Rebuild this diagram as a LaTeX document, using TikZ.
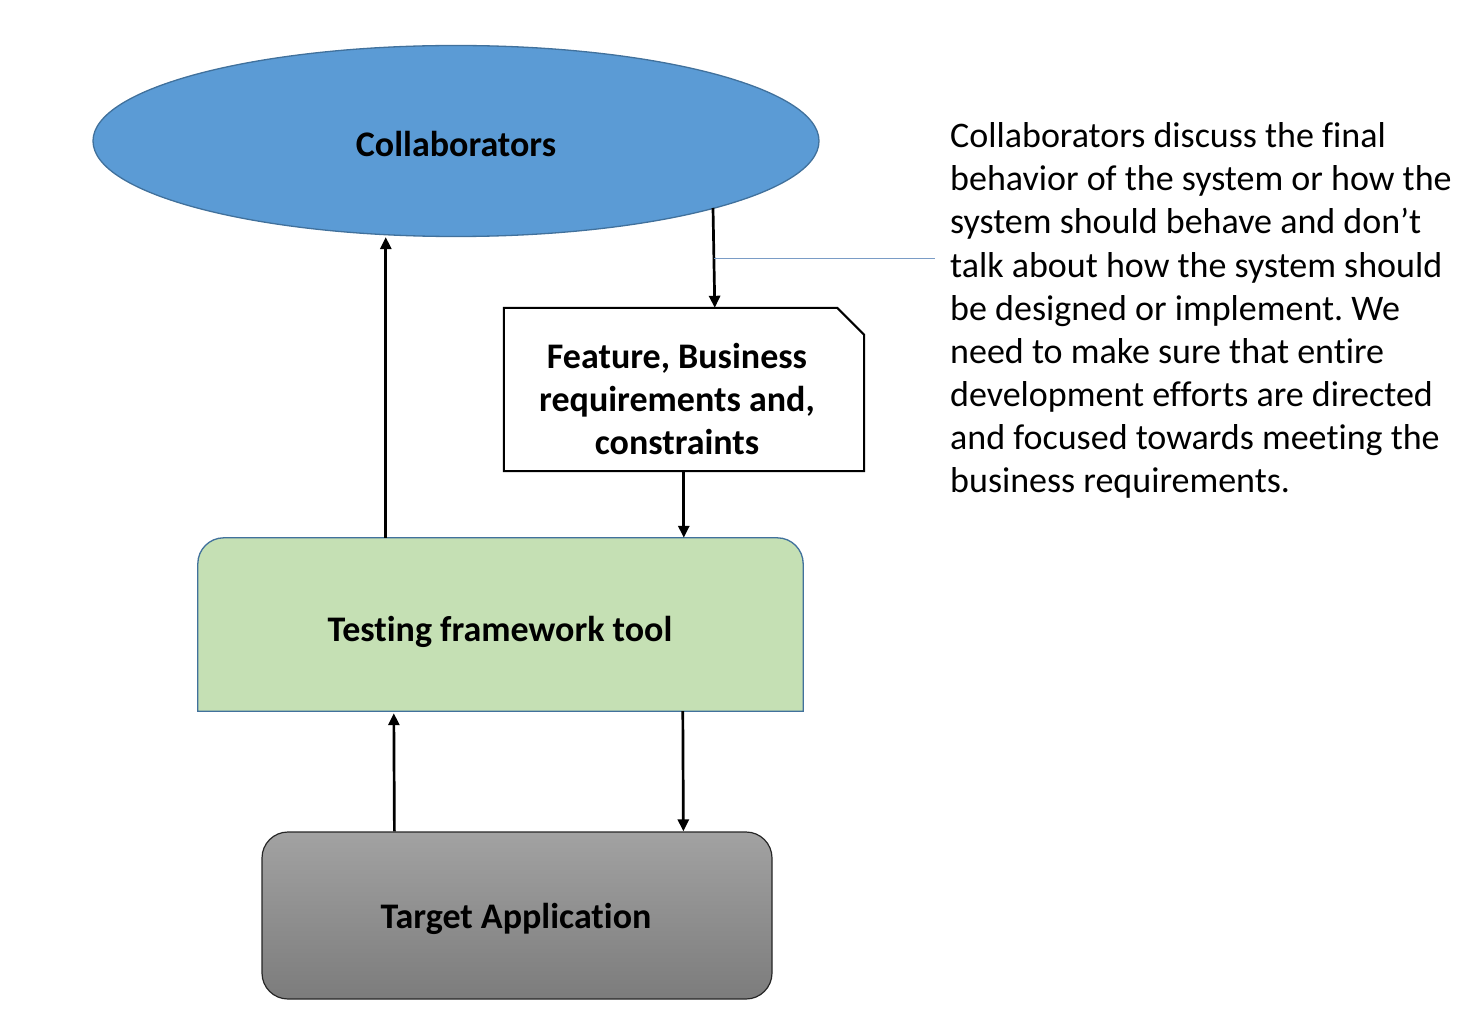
\documentclass[tikz,border=0pt]{standalone}
\usepackage{fontspec}
\setmainfont{Carlito}[Ligatures={NoCommon}]
\usetikzlibrary{arrows.meta,calc,shapes.geometric}
\frenchspacing
\definecolor{ellfill}{HTML}{5B9BD5}
\definecolor{ellline}{HTML}{41719C}
\definecolor{grnfill}{HTML}{C5E0B4}
\definecolor{callline}{HTML}{7A9CC6}
\definecolor{graytop}{HTML}{A2A2A2}
\definecolor{graybot}{HTML}{7C7C7C}
\begin{document}
\begin{tikzpicture}[x=1pt,y=-1pt,
  lbl/.style={font=\fontsize{36}{43}\selectfont\bfseries, align=center, text=black},
  body/.style={font=\fontsize{36}{43}\selectfont, anchor=base west, inner sep=0pt, text=black},
  arr/.style={line width=2.7pt, draw=black, -{Triangle[length=12pt,width=11pt]}},
  box/.style={rectangle, inner sep=0pt, draw=none}]
\useasboundingbox (0,0) rectangle (1481,1027);
% Collaborators ellipse
\node[ellipse, minimum width=726pt, minimum height=191pt, inner sep=0pt,
      fill=ellfill, draw=ellline, line width=1.3pt] (collab) at (456,141) {};
\node[lbl] (collabT) at (456,144) {Collaborators};
% note box
\node[box, minimum width=360pt, minimum height=163pt] (feat) at (684,389.5) {};
\draw[line width=2pt, fill=white] (feat.south west) -- (feat.north west)
  -- ([xshift=-27pt]feat.north east) -- ([yshift=-27pt]feat.north east)
  -- (feat.south east) -- cycle;
\node[lbl] (featT) at (677,399) {Feature, Business\\requirements and,\\constraints};
% testing framework tool
\node[box, minimum width=605pt, minimum height=173pt] (tft) at (500.5,624.5) {};
\draw[line width=1.3pt, draw=ellline, fill=grnfill] (tft.south west)
  -- ([yshift=-26pt]tft.north west) arc[start angle=180, end angle=90, radius=26pt]
  -- ([xshift=-26pt]tft.north east) arc[start angle=90, end angle=0, radius=26pt]
  -- (tft.south east) -- cycle;
\node[lbl] (tftT) at (500,632) {Testing framework tool};
% target application
\node[box, minimum width=510pt, minimum height=167pt, rounded corners=26pt,
      top color=graytop, bottom color=graybot, draw=black!85, line width=1.2pt] (tga) at (517,915.5) {};
\node[lbl] (tgaT) at (516,919) {Target Application};
% connectors
\draw[arr] ([xshift=188pt]tft.north west) -- ([xshift=188pt]tft.north west |- collab.south);
\coordinate (c2s) at ([shift={(257pt,-67pt)}]collab.center);
\coordinate (c2e) at ([xshift=211pt]feat.north west);
\draw[arr] (c2s) -- (c2e);
\coordinate (callS) at ($(c2s)!0.51!(c2e)$);
\coordinate (callE) at (935,259);
\draw[callline, line width=1pt] (callS) -- (callS -| callE);
\draw[arr] ([xshift=180pt]feat.south west) -- ([xshift=180pt]feat.south west |- tft.north);
\draw[arr] ([xshift=133pt]tga.north west) -- ([xshift=196pt, yshift=-2pt]tft.south west);
\draw[arr] ([xshift=485pt]tft.south west) -- ([xshift=422pt]tga.north west);
% description text
\foreach \t [count=\i from 0] in {%
  Collaborators discuss the final,%
  behavior of the system or how the,%
  system should behave and don’t,%
  talk about how the system should,%
  be designed or implement. We,%
  need to make sure that entire,%
  development efforts are directed,%
  and focused towards meeting the,%
  business requirements.}{
  \node[body] (line\i) at (950,{148+43*\i}) {\t};
}
\end{tikzpicture}
\end{document}
